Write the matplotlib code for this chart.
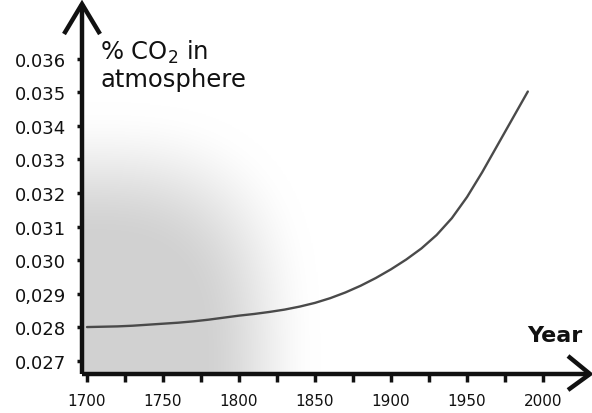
import numpy as np
import matplotlib
matplotlib.use("Agg")
import matplotlib.pyplot as plt

# ---- data ----
years = [1700, 1710, 1720, 1730, 1740, 1750, 1760, 1770, 1780, 1790,
         1800, 1810, 1820, 1830, 1840, 1850, 1860, 1870, 1880, 1890,
         1900, 1910, 1920, 1930, 1940, 1950, 1960, 1970, 1980, 1990]
co2_pct = [0.02801, 0.02802, 0.02803, 0.02805, 0.02808, 0.02811, 0.02814, 0.02818, 0.02823, 0.02829,
           0.02835, 0.02840, 0.02846, 0.02853, 0.02862, 0.02873, 0.02887, 0.02904, 0.02924, 0.02947,
           0.02973, 0.03002, 0.03035, 0.03075, 0.03125, 0.03188, 0.03262, 0.03342, 0.03422, 0.03502]
y_ticks = [0.027, 0.028, 0.029, 0.030, 0.031, 0.032, 0.033, 0.034, 0.035, 0.036]
y_tick_labels = ["0.027", "0.028", "0,029", "0.030", "0.031", "0.032", "0.033", "0.034", "0.035", "0.036"]
x_major = [1700, 1750, 1800, 1850, 1900, 1950, 2000]
x_minor = [1725, 1775, 1825, 1875, 1925, 1975]

W, H = 592, 414
fig = plt.figure(figsize=(W / 100, H / 100), dpi=100)
fig.patch.set_facecolor("white")

left_px, right_px, top_px, bot_px = 82, 590, 5, 375
ax = fig.add_axes([left_px / W, (H - bot_px) / H, (right_px - left_px) / W, (bot_px - top_px) / H])
ax.set_xlim(1696.7, 2030.9)
ax.set_ylim(0.026613, 0.037625)
ax.set_facecolor("none")


def smoothstep(e0, e1, v):
    t = np.clip((v - e0) / (e1 - e0), 0, 1)
    return t * t * (3 - 2 * t)


# background grey shading (styling only)
ny, nx = 300, 400
gx, gy = np.meshgrid(np.linspace(0, 1, nx), np.linspace(0, 1, ny))
p = 3.0
d = ((gx / 0.46) ** p + (gy / 0.72) ** p) ** (1 / p)
grey = 1 - 0.18 * (1 - smoothstep(0.50, 1.02, d))
img = np.dstack([grey, grey, grey])
ax.imshow(img, extent=[0, 1, 0, 1], transform=ax.transAxes, origin="lower",
          aspect="auto", zorder=0, interpolation="bilinear")

ax.plot(years, co2_pct, color="#4a4a4a", lw=1.7, zorder=3, solid_capstyle="round",
        solid_joinstyle="round")

for s in ax.spines.values():
    s.set_visible(False)

axw, axh = right_px - left_px, bot_px - top_px
k = dict(color="#111111", lw=3.2, clip_on=False, transform=ax.transAxes,
         solid_capstyle="butt", solid_joinstyle="miter", zorder=5)
# axis lines
ax.plot([0, 0], [0, 1], **k)
ax.plot([0, 1], [0, 0], **k)
# arrow heads
ax.plot([-18 / axw, 0, 18 / axw], [1 - 30 / axh, 1, 1 - 30 / axh], **k)
ax.plot([1 - 22 / axw, 1, 1 - 22 / axw], [18 / axh, 0, -16 / axh], **k)

ax.set_yticks(y_ticks)
ax.set_yticklabels(y_tick_labels)
ax.set_xticks(x_major)
ax.set_xticks(x_minor, minor=True)
ax.tick_params(axis="y", direction="out", length=3.5, width=2.5, pad=8,
               labelsize=13, colors="#111111")
ax.tick_params(axis="x", which="both", direction="out", length=6, width=2.5, pad=8,
               labelsize=11, colors="#111111")

ax.text(100 / W, 1 - 60 / H, "% CO$_2$ in", transform=fig.transFigure,
        fontsize=17.5, color="#111111", ha="left", va="baseline")
ax.text(100 / W, 1 - 87 / H, "atmosphere", transform=fig.transFigure,
        fontsize=17.5, color="#111111", ha="left", va="baseline")
ax.text(582 / W, 1 - 342 / H, "Year", transform=fig.transFigure,
        fontsize=16, fontweight="bold", color="#111111", ha="right", va="baseline")

fig.savefig("out.png", dpi=100, facecolor="white")
